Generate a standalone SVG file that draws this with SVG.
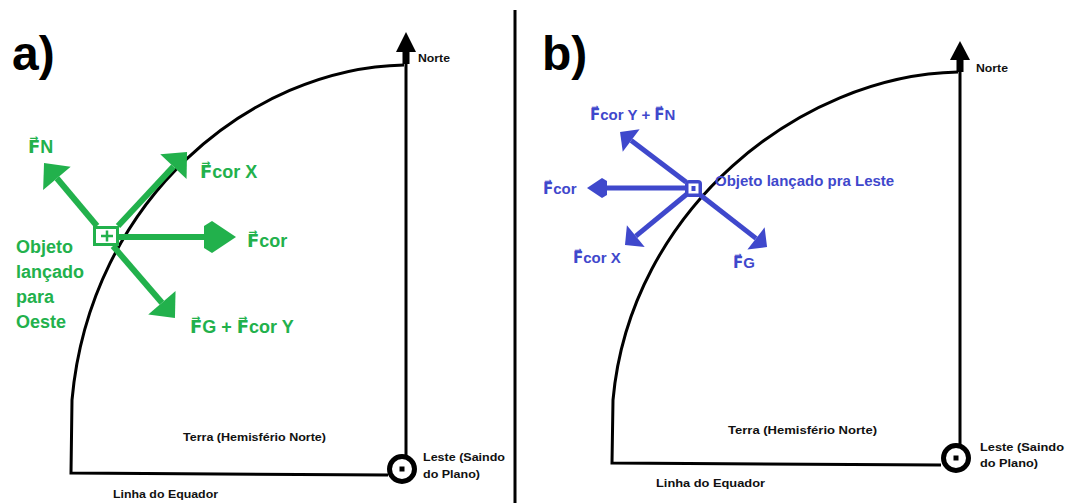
<svg xmlns="http://www.w3.org/2000/svg" width="1070" height="503" viewBox="0 0 1070 503">
<style>
.ax{fill:none;stroke:#000;stroke-width:3}
.gl{stroke:#22b14c;stroke-width:6;fill:none}
.bl{stroke:#3f48cc;stroke-width:5;fill:none}
.gt{fill:#22b14c;font-family:"Liberation Sans","DejaVu Sans","Noto Sans",sans-serif;font-weight:bold;font-size:18px}
.bt{fill:#3f48cc;font-family:"Liberation Sans","DejaVu Sans","Noto Sans",sans-serif;font-weight:bold;font-size:15px}
.kt{fill:#111;font-family:"Liberation Sans",Arial,sans-serif;font-weight:bold;font-size:11px}
.pt{fill:#000;font-family:"Liberation Sans",Arial,sans-serif;font-weight:bold;font-size:48px}
</style>
<defs>
<marker id="gh" markerUnits="userSpaceOnUse" viewBox="0 -16 32 32" markerWidth="32" markerHeight="32" refX="0" refY="0" orient="auto" overflow="visible"><path d="M0,-11 L8,-16 L32,0 L8,16 L0,11 z" fill="#22b14c"/></marker>
<marker id="gd" markerUnits="userSpaceOnUse" viewBox="0 -18 20 36" markerWidth="20" markerHeight="36" refX="0" refY="0" orient="auto" overflow="visible"><path d="M0,-18 L20,0 L0,18 z" fill="#22b14c"/></marker>
<marker id="bh" markerUnits="userSpaceOnUse" viewBox="0 -10 20 20" markerWidth="20" markerHeight="20" refX="0" refY="0" orient="auto" overflow="visible"><path d="M0,-7 L5,-10 L20,0 L5,10 L0,7 z" fill="#3f48cc"/></marker>
<marker id="bd" markerUnits="userSpaceOnUse" viewBox="0 -14 14 28" markerWidth="14" markerHeight="28" refX="0" refY="0" orient="auto" overflow="visible"><path d="M0,-14 L14,0 L0,14 z" fill="#3f48cc"/></marker>
</defs>
<rect width="1070" height="503" fill="#fff"/>

<!-- divider -->
<line x1="515" y1="10" x2="515" y2="503" stroke="#000" stroke-width="3"/>

<!-- Panel a frame -->
<g id="panel-a-earth">
<text class="pt" x="12" y="70">a)</text>
<path class="ax" d="M404,65 C250,68 90,200 72,400 L71,473 L388,475"/>
<line class="ax" x1="406" y1="62" x2="406" y2="455"/>
<polygon points="396,52 406,32 416,52" fill="#000"/>
<rect x="402.5" y="50" width="7" height="14" fill="#000"/>
<text class="kt" x="418" y="62" font-size="10" textLength="32" lengthAdjust="spacingAndGlyphs">Norte</text>
<circle cx="402" cy="469" r="12.5" fill="#fff" stroke="#000" stroke-width="5"/>
<rect x="399.5" y="466.5" width="5" height="5" fill="#000"/>
<text class="kt" x="423" y="461" textLength="82" lengthAdjust="spacingAndGlyphs">Leste (Saindo</text>
<text class="kt" x="423" y="478" textLength="57" lengthAdjust="spacingAndGlyphs">do Plano)</text>
<text class="kt" x="183" y="441" textLength="143" lengthAdjust="spacingAndGlyphs">Terra (Hemisfério Norte)</text>
<text class="kt" x="113" y="498" textLength="105" lengthAdjust="spacingAndGlyphs">Linha do Equador</text>
</g>

<!-- Panel b frame -->
<g id="panel-b-earth">
<text class="pt" x="542" y="70">b)</text>
<path class="ax" d="M958,72 C800,75 630,210 613,400 L612,463 L941,465"/>
<line class="ax" x1="960" y1="70" x2="960" y2="444"/>
<polygon points="950,60 960,41 970,60" fill="#000"/>
<rect x="956.5" y="58" width="7" height="14" fill="#000"/>
<text class="kt" x="976" y="72" font-size="10" textLength="32" lengthAdjust="spacingAndGlyphs">Norte</text>
<circle cx="956" cy="458" r="12.5" fill="#fff" stroke="#000" stroke-width="5"/>
<rect x="953.5" y="455.5" width="5" height="5" fill="#000"/>
<text class="kt" x="980" y="451" textLength="84" lengthAdjust="spacingAndGlyphs">Leste (Saindo</text>
<text class="kt" x="980" y="467" textLength="58" lengthAdjust="spacingAndGlyphs">do Plano)</text>
<text class="kt" x="728" y="434" textLength="149" lengthAdjust="spacingAndGlyphs">Terra (Hemisfério Norte)</text>
<text class="kt" x="656" y="487" textLength="109" lengthAdjust="spacingAndGlyphs">Linha do Equador</text>
</g>

<!-- connectors (force vectors) -->
<g id="connectors">
<line class="gl" x1="97" y1="226" x2="56.9" y2="178.3" marker-end="url(#gd)"/>
<line class="gl" x1="118" y1="226" x2="173.4" y2="166.6" marker-end="url(#gd)"/>
<line class="gl" x1="119" y1="237" x2="204" y2="237" marker-end="url(#gh)"/>
<line class="gl" x1="113" y1="246" x2="161.9" y2="302.8" marker-end="url(#gd)"/>
<line class="bl" x1="686" y1="182" x2="631.2" y2="140.5" marker-end="url(#bd)"/>
<line class="bl" x1="686" y1="188" x2="607" y2="188" marker-end="url(#bh)"/>
<line class="bl" x1="687" y1="194" x2="635.8" y2="236.1" marker-end="url(#bd)"/>
<line class="bl" x1="699" y1="194" x2="756" y2="238.4" marker-end="url(#bd)"/>
</g>

<!-- Object a -->
<g id="objeto-oeste">
<rect x="94.5" y="227.5" width="23" height="17" fill="#fff" stroke="#22b14c" stroke-width="3"/>
<path d="M101,236 H113 M107,230.5 V241.5" stroke="#22b14c" stroke-width="2.5"/>
<text class="gt" x="16" y="253">Objeto</text>
<text class="gt" x="16" y="278">lançado</text>
<text class="gt" x="16" y="303">para</text>
<text class="gt" x="16" y="328">Oeste</text>
</g>
<g id="label-a-fn"><text class="gt" x="28" y="153">F&#x20D7;N</text></g>
<g id="label-a-fcorx"><text class="gt" x="200" y="178">F&#x20D7;cor X</text></g>
<g id="label-a-fcor"><text class="gt" x="247" y="247">F&#x20D7;cor</text></g>
<g id="label-a-fg"><text class="gt" x="190" y="333">F&#x20D7;G + F&#x20D7;cor Y</text></g>

<!-- Object b -->
<g id="objeto-leste">
<rect x="685" y="180" width="17" height="17" rx="4" fill="#3f48cc"/>
<rect x="688.5" y="183.5" width="10" height="10" fill="#fff"/>
<rect x="691.5" y="186" width="4" height="5" fill="#3f48cc"/>
<text class="bt" x="715" y="186">Objeto lançado pra Leste</text>
</g>
<g id="label-b-fcoryfn"><text class="bt" x="590" y="120">F&#x20D7;cor Y + F&#x20D7;N</text></g>
<g id="label-b-fcor"><text class="bt" x="543" y="194">F&#x20D7;cor</text></g>
<g id="label-b-fcorx"><text class="bt" x="573" y="263">F&#x20D7;cor X</text></g>
<g id="label-b-fg"><text class="bt" x="733" y="268">F&#x20D7;G</text></g>
</svg>
